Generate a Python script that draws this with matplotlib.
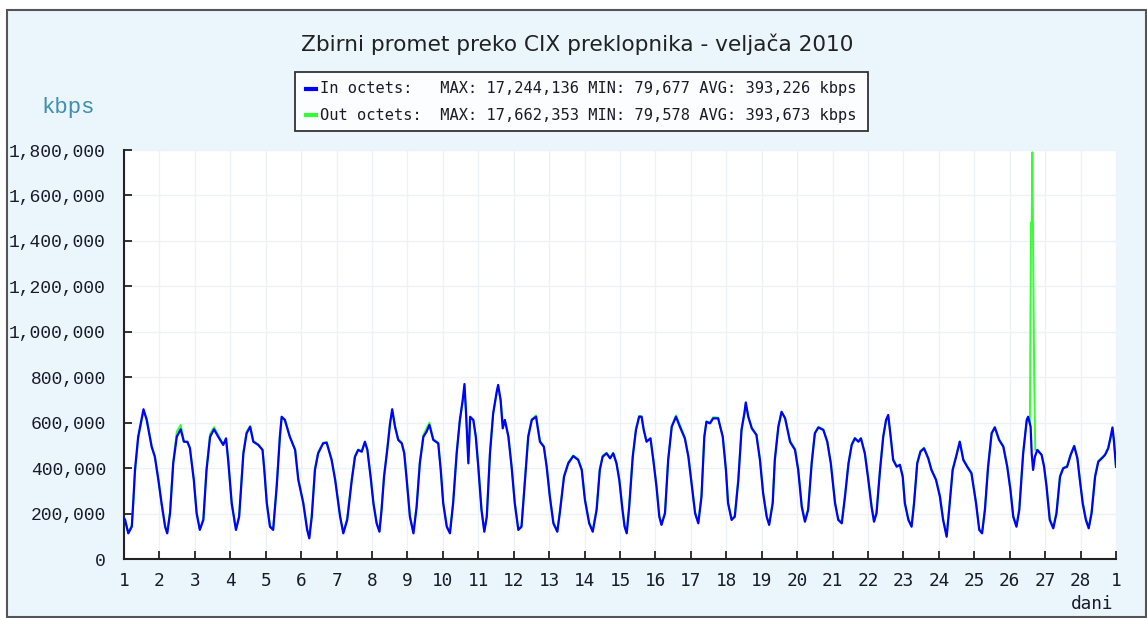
import matplotlib
matplotlib.use("Agg")
import matplotlib.pyplot as plt
from matplotlib.patches import Rectangle
from matplotlib.lines import Line2D

# ---------------- data ----------------
title = "Zbirni promet preko CIX preklopnika - veljača 2010"
y_unit = "kbps"
x_unit = "dani"
day_labels = [str(d) for d in range(1, 29)] + ["1"]
y_ticks = [0, 200000, 400000, 600000, 800000, 1000000, 1200000, 1400000, 1600000, 1800000]
y_labels = ["0", "200,000", "400,000", "600,000", "800,000", "1,000,000",
            "1,200,000", "1,400,000", "1,600,000", "1,800,000"]
legend_in = "In octets:   MAX: 17,244,136 MIN: 79,677 AVG: 393,226 kbps"
legend_out = "Out octets:  MAX: 17,662,353 MIN: 79,578 AVG: 393,673 kbps"

# time in days since 1 Feb, traffic in thousands of kbps
in_t = [
    0.00, 0.03, 0.12, 0.22, 0.26, 0.31, 0.40, 0.55, 0.64, 0.78, 0.87, 0.97,
    1.06, 1.16, 1.22, 1.30, 1.39, 1.49, 1.60, 1.69, 1.79, 1.86, 1.97,
    2.05, 2.14, 2.24, 2.33, 2.43, 2.54, 2.66, 2.80, 2.88, 2.94,
    3.04, 3.16, 3.25, 3.37, 3.46, 3.56, 3.65, 3.79, 3.91, 3.96,
    4.03, 4.12, 4.21, 4.31, 4.40, 4.45, 4.54, 4.68, 4.83, 4.92,
    5.06, 5.17, 5.23, 5.30, 5.39, 5.48, 5.62, 5.72, 5.86, 5.96,
    6.10, 6.19, 6.30, 6.43, 6.52, 6.61, 6.71, 6.80, 6.87, 6.97,
    7.04, 7.13, 7.21, 7.27, 7.34, 7.43, 7.51, 7.57, 7.65, 7.74, 7.84, 7.91,
    7.98, 8.07, 8.17, 8.26, 8.35, 8.45, 8.54, 8.62, 8.73, 8.87, 8.94,
    9.01, 9.11, 9.20, 9.29, 9.39, 9.48, 9.56, 9.61, 9.65, 9.69, 9.72, 9.77, 9.86, 9.93,
    10.00, 10.09, 10.17, 10.24, 10.33, 10.42, 10.52, 10.56, 10.63, 10.69, 10.75, 10.85, 10.94,
    11.03, 11.13, 11.22, 11.32, 11.41, 11.51, 11.63, 11.74, 11.85, 11.93,
    12.02, 12.12, 12.23, 12.30, 12.42, 12.54, 12.68, 12.82, 12.92,
    13.01, 13.13, 13.23, 13.34, 13.43, 13.51, 13.62, 13.72, 13.81, 13.90, 13.98,
    14.07, 14.13, 14.19, 14.26, 14.36, 14.45, 14.54, 14.61, 14.67, 14.75, 14.86, 14.94,
    15.03, 15.11, 15.17, 15.27, 15.36, 15.46, 15.58, 15.69, 15.83, 15.93,
    16.02, 16.12, 16.21, 16.30, 16.38, 16.44, 16.54, 16.63, 16.77, 16.90, 16.99,
    17.05, 17.15, 17.24, 17.34, 17.43, 17.51, 17.55, 17.62, 17.72, 17.85, 17.95,
    18.04, 18.14, 18.21, 18.31, 18.37, 18.47, 18.56, 18.66, 18.80, 18.94,
    19.03, 19.13, 19.22, 19.31, 19.41, 19.50, 19.60, 19.74, 19.85, 19.95,
    20.07, 20.16, 20.26, 20.35, 20.45, 20.54, 20.63, 20.73, 20.80, 20.91, 21.00,
    21.10, 21.17, 21.24, 21.34, 21.43, 21.51, 21.57, 21.64, 21.71, 21.81, 21.90, 21.98,
    22.04, 22.14, 22.23, 22.30, 22.39, 22.48, 22.58, 22.70, 22.79, 22.92,
    23.03, 23.12, 23.22, 23.29, 23.39, 23.50, 23.59, 23.69, 23.80, 23.92,
    24.05, 24.14, 24.22, 24.30, 24.39, 24.49, 24.58, 24.70, 24.82, 24.93,
    25.02, 25.10, 25.19, 25.27, 25.38, 25.48, 25.52, 25.59, 25.62, 25.66, 25.71, 25.78, 25.90, 25.97,
    26.04, 26.13, 26.23, 26.32, 26.42, 26.51, 26.62, 26.72, 26.82, 26.91, 26.98,
    27.06, 27.15, 27.23, 27.31, 27.41, 27.50, 27.60, 27.69, 27.78, 27.85, 27.90, 27.94, 28.00,
]
in_k = [
    180, 172, 113, 142, 246, 392, 538, 659, 612, 494, 450, 348,
    246, 142, 113, 202, 422, 538, 571, 516, 516, 488, 348,
    201, 128, 172, 392, 538, 571, 538, 502, 531, 436,
    246, 128, 186, 465, 553, 582, 516, 502, 480, 392,
    246, 142, 128, 318, 538, 626, 612, 538, 480, 348,
    246, 128, 91, 186, 392, 465, 509, 512, 436, 348,
    186, 113, 172, 348, 450, 480, 472, 516, 480, 348,
    245, 157, 120, 216, 362, 480, 597, 659, 582, 524, 509, 465,
    348, 186, 113, 230, 421, 538, 560, 590, 524, 509, 392,
    245, 142, 113, 245, 465, 612, 700, 770, 656, 524, 421, 626, 612, 538,
    406, 216, 120, 186, 465, 641, 736, 766, 700, 575, 612, 538, 406,
    245, 128, 142, 348, 538, 612, 626, 516, 494, 406,
    274, 157, 120, 201, 362, 421, 453, 436, 392,
    260, 157, 120, 216, 392, 450, 465, 443, 465, 421, 348,
    216, 142, 113, 230, 450, 568, 626, 626, 568, 516, 531, 436,
    318, 186, 150, 201, 436, 582, 626, 582, 531, 450,
    333, 201, 157, 274, 538, 604, 597, 619, 619, 538, 392,
    245, 172, 186, 348, 568, 641, 689, 626, 575, 546, 436,
    289, 186, 150, 245, 436, 582, 648, 619, 516, 480,
    392, 230, 164, 216, 421, 553, 579, 568, 516, 421,
    245, 172, 157, 274, 421, 502, 531, 516, 531, 465, 360,
    230, 164, 201, 392, 538, 612, 634, 538, 436, 406, 414, 362,
    245, 172, 142, 245, 421, 472, 487, 443, 392, 348,
    274, 172, 98, 216, 392, 458, 516, 436, 406, 377,
    245, 128, 113, 216, 406, 553, 579, 524, 494, 406,
    304, 186, 142, 216, 465, 612, 626, 582, 465, 392, 450, 480, 458, 406,
    318, 172, 135, 201, 362, 399, 406, 458, 497, 443, 348,
    245, 172, 135, 201, 362, 428, 443, 458, 487, 538, 579, 524, 406,
]

out_t = [
    0.00, 0.03, 0.12, 0.22, 0.26, 0.31, 0.40, 0.55, 0.64, 0.78, 0.87, 0.97,
    1.06, 1.16, 1.22, 1.30, 1.39, 1.49, 1.60, 1.69, 1.79, 1.86, 1.97,
    2.05, 2.14, 2.24, 2.33, 2.43, 2.54, 2.66, 2.80, 2.88, 2.94,
    3.04, 3.16, 3.25, 3.37, 3.46, 3.56, 3.65, 3.79, 3.91, 3.96,
    4.03, 4.12, 4.21, 4.31, 4.40, 4.45, 4.54, 4.68, 4.83, 4.92,
    5.06, 5.17, 5.23, 5.30, 5.39, 5.48, 5.62, 5.72, 5.86, 5.96,
    6.10, 6.19, 6.30, 6.43, 6.52, 6.61, 6.71, 6.80, 6.87, 6.97,
    7.04, 7.13, 7.21, 7.27, 7.34, 7.43, 7.51, 7.57, 7.65, 7.74, 7.84, 7.91,
    7.98, 8.07, 8.17, 8.26, 8.35, 8.45, 8.54, 8.62, 8.73, 8.87, 8.94,
    9.01, 9.11, 9.20, 9.29, 9.39, 9.48, 9.56, 9.61, 9.65, 9.69, 9.72, 9.77, 9.86, 9.93,
    10.00, 10.09, 10.17, 10.24, 10.33, 10.42, 10.52, 10.56, 10.63, 10.69, 10.75, 10.85, 10.94,
    11.03, 11.13, 11.22, 11.32, 11.41, 11.51, 11.63, 11.74, 11.85, 11.93,
    12.02, 12.12, 12.23, 12.30, 12.42, 12.54, 12.68, 12.82, 12.92,
    13.01, 13.13, 13.23, 13.34, 13.43, 13.51, 13.62, 13.72, 13.81, 13.90, 13.98,
    14.07, 14.13, 14.19, 14.26, 14.36, 14.45, 14.54, 14.61, 14.67, 14.75, 14.86, 14.94,
    15.03, 15.11, 15.17, 15.27, 15.36, 15.46, 15.58, 15.69, 15.83, 15.93,
    16.02, 16.12, 16.21, 16.30, 16.38, 16.44, 16.54, 16.63, 16.77, 16.90, 16.99,
    17.05, 17.15, 17.24, 17.34, 17.43, 17.51, 17.55, 17.62, 17.72, 17.85, 17.95,
    18.04, 18.14, 18.21, 18.31, 18.37, 18.47, 18.56, 18.66, 18.80, 18.94,
    19.03, 19.13, 19.22, 19.31, 19.41, 19.50, 19.60, 19.74, 19.85, 19.95,
    20.07, 20.16, 20.26, 20.35, 20.45, 20.54, 20.63, 20.73, 20.80, 20.91, 21.00,
    21.10, 21.17, 21.24, 21.34, 21.43, 21.51, 21.57, 21.64, 21.71, 21.81, 21.90, 21.98,
    22.04, 22.14, 22.23, 22.30, 22.39, 22.48, 22.58, 22.70, 22.79, 22.92,
    23.03, 23.12, 23.22, 23.29, 23.39, 23.50, 23.59, 23.69, 23.80, 23.92,
    24.05, 24.14, 24.22, 24.30, 24.39, 24.49, 24.58, 24.70, 24.82, 24.93,
    25.02, 25.10, 25.19, 25.27, 25.38, 25.48, 25.52, 25.57, 25.60, 25.62, 25.64, 25.69, 25.72, 25.78, 25.90, 25.97,
    26.04, 26.13, 26.23, 26.32, 26.42, 26.51, 26.62, 26.72, 26.82, 26.91, 26.98,
    27.06, 27.15, 27.23, 27.31, 27.41, 27.50, 27.60, 27.69, 27.78, 27.85, 27.90, 27.94, 28.00,
]
out_k = [
    180, 175, 118, 150, 240, 380, 530, 650, 620, 500, 455, 352,
    240, 150, 118, 210, 430, 560, 590, 520, 512, 490, 352,
    205, 132, 178, 400, 550, 580, 545, 505, 525, 440,
    240, 132, 190, 470, 560, 585, 520, 505, 482, 395,
    250, 146, 132, 325, 545, 620, 615, 540, 482, 352,
    250, 132, 98, 195, 400, 470, 512, 515, 440, 352,
    190, 118, 178, 355, 455, 482, 475, 515, 482, 352,
    250, 162, 125, 222, 368, 485, 600, 650, 585, 528, 512, 470,
    352, 190, 118, 236, 428, 545, 575, 600, 528, 512, 396,
    250, 146, 118, 250, 470, 610, 690, 740, 660, 540, 450, 620, 610, 540,
    410, 222, 125, 192, 470, 640, 730, 760, 700, 600, 612, 540, 410,
    250, 132, 146, 355, 545, 615, 632, 520, 498, 410,
    278, 162, 125, 206, 368, 425, 456, 440, 396,
    265, 162, 125, 222, 396, 455, 468, 446, 468, 425, 352,
    222, 146, 118, 236, 455, 572, 630, 628, 570, 518, 532, 440,
    322, 190, 155, 206, 440, 585, 632, 590, 535, 455,
    338, 206, 162, 280, 540, 606, 600, 624, 622, 540, 396,
    250, 178, 190, 352, 570, 640, 680, 630, 578, 548, 440,
    294, 190, 155, 250, 440, 585, 645, 622, 520, 484,
    396, 236, 168, 222, 425, 556, 582, 570, 518, 425,
    250, 178, 162, 280, 425, 506, 534, 518, 532, 468, 365,
    236, 168, 206, 396, 540, 610, 628, 540, 440, 410, 416, 366,
    250, 178, 146, 250, 425, 476, 490, 446, 396, 352,
    280, 178, 104, 222, 396, 462, 518, 440, 410, 380,
    250, 132, 118, 222, 410, 556, 582, 528, 498, 410,
    308, 190, 146, 222, 470, 610, 626, 600, 1480, 1480, 1790, 820, 480, 480, 460, 410,
    322, 178, 140, 206, 368, 402, 410, 460, 500, 446, 352,
    250, 178, 140, 206, 368, 432, 446, 460, 490, 540, 560, 520, 410,
]

# ---------------- figure ----------------
W, H = 1147, 618
fig = plt.figure(figsize=(W / 100, H / 100), dpi=100)
fig.patch.set_facecolor("white")

def fx(px):
    return px / W

def fy(py):
    return 1 - py / H

# page panel with border (behind everything)
fig.patches.append(Rectangle((fx(7), fy(617)), fx(1146) - fx(7), fy(10) - fy(617),
                             transform=fig.transFigure, facecolor="#eaf6fb",
                             edgecolor="#555555", linewidth=1.5, zorder=-10))

ax = fig.add_axes([fx(124), fy(559), fx(1116) - fx(124), fy(150) - fy(559)])
ax.set_zorder(1)
ax.set_facecolor("white")

ax.plot(out_t, [v * 1000 for v in out_k], color="#33ff33", linewidth=1.4, zorder=3)
ax.plot(in_t, [v * 1000 for v in in_k], color="#0000ff", linewidth=1.6, zorder=4)

ax.set_xlim(0, 28)
ax.set_ylim(0, 1800000)
ax.set_xticks(range(len(day_labels)))
ax.set_xticklabels(day_labels, family="DejaVu Sans Mono", fontsize=12.8, color="#1a1a2a")
ax.set_yticks(y_ticks)
ax.set_yticklabels(y_labels, family="Liberation Mono", fontsize=13, color="#1a1a2a")
ax.tick_params(axis="both", direction="in", length=6, width=1.3, color="#222222")
ax.tick_params(axis="x", pad=9)
ax.tick_params(axis="y", pad=13)

for s in ["top", "right"]:
    ax.spines[s].set_visible(False)
for s in ["left", "bottom"]:
    ax.spines[s].set_color("#222222")
    ax.spines[s].set_linewidth(1.5)

ax.grid(True, color="#edf2f7", linewidth=1.0)
ax.set_axisbelow(True)

# title
fig.text(fx(577), fy(44), title, ha="center", va="center", fontsize=15.6,
         family="DejaVu Sans", color="#222222")

# unit labels
fig.text(fx(68), fy(108), y_unit, ha="center", va="center", fontsize=16,
         family="Liberation Mono", color="#3f8fae")
fig.text(fx(1113), fy(604), x_unit, ha="right", va="center", fontsize=12.8,
         family="DejaVu Sans Mono", color="#1a1a2a")

# legend box
fig.patches.append(Rectangle((fx(295), fy(131)), fx(868) - fx(295), fy(72) - fy(131),
                             transform=fig.transFigure, facecolor="#fbfdfe",
                             edgecolor="#333333", linewidth=1.3, zorder=5))
for ypix, col, txt in [(89, "#0000ff", legend_in), (115, "#33ff33", legend_out)]:
    fig.lines.append(Line2D([fx(306), fx(316)], [fy(ypix), fy(ypix)],
                            transform=fig.transFigure, color=col, linewidth=3, zorder=6))
    fig.text(fx(320), fy(ypix), txt, ha="left", va="center", fontsize=11.1,
             family="DejaVu Sans Mono", color="#1a1a2a", zorder=6)

fig.savefig("out.png", dpi=100, facecolor=fig.get_facecolor())
